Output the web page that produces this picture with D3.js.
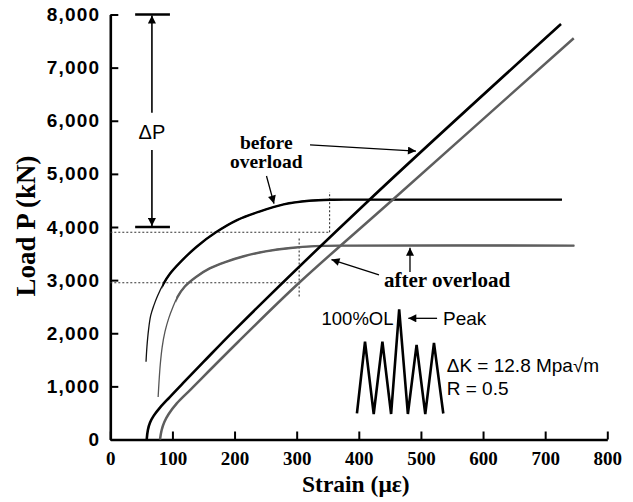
<!DOCTYPE html>
<html>
<head>
<meta charset="utf-8">
<script src="https://cdn.jsdelivr.net/npm/d3@7"></script>
<style>
  body { margin: 0; background: #fff; }
  svg { display: block; }
  .serif { font-family: "Liberation Serif", "Times New Roman", serif; font-weight: bold; }
  .sans { font-family: "Liberation Sans", Arial, sans-serif; }
</style>
</head>
<body>
<div id="container"></div>
<script>
// data (strain in µε, load in kN)
const xTicks = [0, 100, 200, 300, 400, 500, 600, 700, 800];
const yTicks = [0, 1000, 2000, 3000, 4000, 5000, 6000, 7000, 8000];

const strainBefore = [[58.6,0],[60.5,180],[64,320],[70,450],[80,600],[95,790],[117,1060],[150,1460],[200,2060],[416,4500],[725.5,7821]];
const strainAfter = [[80,0],[82.5,170],[87,330],[94,480],[107,680],[130,950],[206,1840],[304,2950],[455,4518],[746,7552]];
const plateauBefore = [[57.5,1464],[59,1750],[61.5,2060],[65,2330],[70,2520],[76,2700],[85,2920],[96,3120],[112,3330],[139,3629],[170,3900],[204,4130],[240,4290],[279,4425],[320,4495],[360,4514],[400,4515],[727,4515]];
const plateauAfter = [[77,800],[78.5,1100],[80.5,1420],[83.5,1740],[88,2030],[94,2280],[101,2500],[108,2680],[120,2880],[138,3060],[160,3220],[185,3340],[215,3450],[250,3540],[290,3605],[330,3640],[380,3650],[747,3650]];

// dotted guide lines: [strain, load level, vertical from, vertical to]
const guides = [[353, 3900, 3900, 4660], [304, 2950, 2690, 3790]];

// loading waveform inset
const waveform = [[397,490],[410,1840],[424,480],[438,1840],[452,480],[465,2450],[479,480],[493,1780],[507,480],[521,1820],[536,490]];

const deltaP = [4000, 8000];

const width = 633;
const height = 502;

const x = d3.scaleLinear().domain([0, 800]).range([110.3, 607.3]);
const y = d3.scaleLinear().domain([0, 8000]).range([439.5, 14.5]);

const svg = d3.select("#container")
  .append("svg")
  .attr("width", width)
  .attr("height", height);

const defs = svg.append("defs");
defs.append("marker")
  .attr("id", "arrow")
  .attr("viewBox", "0 0 10 10")
  .attr("refX", 10).attr("refY", 5)
  .attr("markerWidth", 10).attr("markerHeight", 8)
  .attr("markerUnits", "userSpaceOnUse")
  .attr("orient", "auto")
  .append("path")
  .attr("d", "M0,0 L10,5 L0,10 Z")
  .attr("fill", "#000");

defs.append("clipPath").attr("id", "thickBefore")
  .append("rect").attr("x", x(84)).attr("y", 0).attr("width", width).attr("height", height);
defs.append("clipPath").attr("id", "thickAfter")
  .append("rect").attr("x", x(106)).attr("y", 0).attr("width", width).attr("height", height);

// axes
const xAxis = d3.axisBottom(x).tickValues(xTicks).tickSizeInner(-8).tickSizeOuter(0).tickFormat(d3.format("d"));
const yAxis = d3.axisLeft(y).tickValues(yTicks).tickSizeInner(-8).tickSizeOuter(0).tickFormat(d3.format(","));

const gx = svg.append("g").attr("transform", `translate(0,${y(0)})`).call(xAxis);
gx.select(".domain").attr("stroke-width", 2.6);
gx.selectAll(".tick line").attr("stroke-width", 2);
gx.selectAll(".tick text")
  .attr("class", "serif")
  .attr("y", 12)
  .style("font-size", "19px")
  .attr("fill", "#000");

const gy = svg.append("g").attr("transform", `translate(${x(0)},0)`).call(yAxis);
gy.select(".domain").attr("stroke-width", 2.6);
gy.selectAll(".tick line").attr("stroke-width", 2);
gy.selectAll(".tick text")
  .attr("class", "sans")
  .attr("x", -10)
  .style("font-size", "19px")
  .style("font-weight", "bold")
  .style("letter-spacing", "1.2px")
  .attr("fill", "#000");

svg.append("text").attr("class", "serif")
  .attr("x", x(400) - 3).attr("y", 492)
  .attr("text-anchor", "middle")
  .style("font-size", "23.5px")
  .text("Strain (με)");

svg.append("text").attr("class", "serif")
  .attr("transform", `translate(35,${y(4000) - 1}) rotate(-90)`)
  .attr("text-anchor", "middle")
  .style("font-size", "27px")
  .text("Load P (kN)");

// guides
const gGuide = svg.append("g").attr("stroke", "#333").attr("stroke-width", 1.1).attr("stroke-dasharray", "2,2").attr("fill", "none");
guides.forEach(g => {
  gGuide.append("line").attr("x1", x(0)).attr("x2", x(g[0])).attr("y1", y(g[1])).attr("y2", y(g[1]));
  gGuide.append("line").attr("x1", x(g[0])).attr("x2", x(g[0])).attr("y1", y(g[2])).attr("y2", y(g[3]));
});

// curves
const line = d3.line().x(d => x(d[0])).y(d => y(d[1])).curve(d3.curveCatmullRom.alpha(0.5));

svg.append("path").datum(plateauBefore).attr("d", line)
  .attr("fill", "none").attr("stroke", "#111").attr("stroke-width", 1.3);
svg.append("path").datum(plateauBefore).attr("d", line).attr("clip-path", "url(#thickBefore)")
  .attr("fill", "none").attr("stroke", "#000").attr("stroke-width", 2.4);

svg.append("path").datum(plateauAfter).attr("d", line)
  .attr("fill", "none").attr("stroke", "#555").attr("stroke-width", 1.3);
svg.append("path").datum(plateauAfter).attr("d", line).attr("clip-path", "url(#thickAfter)")
  .attr("fill", "none").attr("stroke", "#5e5e5e").attr("stroke-width", 2.4);

svg.append("path").datum(strainAfter).attr("d", line)
  .attr("fill", "none").attr("stroke", "#5e5e5e").attr("stroke-width", 2.5);
svg.append("path").datum(strainBefore).attr("d", line)
  .attr("fill", "none").attr("stroke", "#000").attr("stroke-width", 2.6);

// delta P annotation
const gP = svg.append("g").attr("stroke", "#000");
deltaP.forEach(v => {
  gP.append("line").attr("x1", x(40)).attr("x2", x(96)).attr("y1", y(v)).attr("y2", y(v)).attr("stroke-width", 2.4);
});
gP.append("line").attr("x1", x(67)).attr("x2", x(67)).attr("y1", y(6150)).attr("y2", y(deltaP[1]) + 1)
  .attr("stroke-width", 1.6).attr("marker-end", "url(#arrow)");
gP.append("line").attr("x1", x(67)).attr("x2", x(67)).attr("y1", y(5450)).attr("y2", y(deltaP[0]) - 1)
  .attr("stroke-width", 1.6).attr("marker-end", "url(#arrow)");
svg.append("text").attr("class", "sans")
  .attr("x", x(67)).attr("y", y(5650))
  .attr("text-anchor", "middle")
  .style("font-size", "20px")
  .text("ΔP");

// labels and pointers
const arrows = [
  [[321.5, 5544], [492, 5430]],
  [[251.4, 4960], [263.5, 4440]],
  [[432.5, 3097], [356, 3388]],
  [[482.4, 3153], [482.4, 3610]],
  [[526, 2281], [479.7, 2281]]
];
arrows.forEach(a => {
  svg.append("line")
    .attr("x1", x(a[0][0])).attr("y1", y(a[0][1]))
    .attr("x2", x(a[1][0])).attr("y2", y(a[1][1]))
    .attr("stroke", "#000").attr("stroke-width", 1.3)
    .attr("marker-end", "url(#arrow)");
});

const before = svg.append("text").attr("class", "serif")
  .attr("text-anchor", "middle").style("font-size", "19.5px");
before.append("tspan").attr("x", x(251)).attr("y", y(5470)).text("before");
before.append("tspan").attr("x", x(251)).attr("y", y(5110)).text("overload");

svg.append("text").attr("class", "serif")
  .attr("x", x(542)).attr("y", y(2876))
  .attr("text-anchor", "middle").style("font-size", "21px").text("after overload");

// waveform inset
svg.append("path").datum(waveform)
  .attr("d", d3.line().x(d => x(d[0])).y(d => y(d[1])))
  .attr("fill", "none").attr("stroke", "#000").attr("stroke-width", 2.6).attr("stroke-linejoin", "miter");

svg.append("text").attr("class", "sans")
  .attr("x", x(340)).attr("y", y(2155)).style("font-size", "18.5px").text("100%OL");
svg.append("text").attr("class", "sans")
  .attr("x", x(535.5)).attr("y", y(2155)).style("font-size", "19px").text("Peak");
svg.append("text").attr("class", "sans")
  .attr("x", x(541.5)).attr("y", y(1276)).style("font-size", "19px").text("ΔK = 12.8 Mpa√m");
svg.append("text").attr("class", "sans")
  .attr("x", x(541.5)).attr("y", y(838)).style("font-size", "19px").text("R = 0.5");
</script>
</body>
</html>
